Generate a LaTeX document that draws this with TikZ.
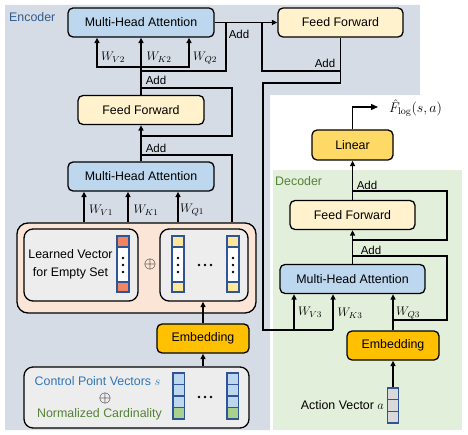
\RequirePackage{fix-cm}
\documentclass[tikz,border=0pt]{standalone}
\usepackage{amsmath}
\usepackage{amssymb}
\usepackage[no-math]{fontspec}
\setmainfont{Liberation Sans}
\usepackage{xcolor}
\usepackage{tikz}
\usetikzlibrary{positioning,calc,arrows.meta}
\definecolor{EncGray}{HTML}{D6DCE5}
\definecolor{DecGreen}{HTML}{E2EFDA}
\definecolor{AttnBlue}{HTML}{BDD7EE}
\definecolor{FFYellow}{HTML}{FFF2CC}
\definecolor{EmbGold}{HTML}{FFC000}
\definecolor{LinGold}{HTML}{FFD966}
\definecolor{SetPink}{HTML}{FBE5D6}
\definecolor{BoxGray}{HTML}{EDEDED}
\definecolor{VecBlue}{HTML}{2F5597}
\definecolor{CellOrange}{HTML}{F4845F}
\definecolor{CellYellow}{HTML}{FFE699}
\definecolor{CellBlue}{HTML}{BDD7EE}
\definecolor{CellGreen}{HTML}{A9D18E}
\definecolor{CellGray}{HTML}{D9D9D9}
\definecolor{EncText}{HTML}{2F5C8F}
\definecolor{CtrlText}{HTML}{2E75B6}
\definecolor{NormText}{HTML}{548235}
\tikzset{
    blockbox/.style={rectangle, rounded corners=5pt, draw=black, line width=1.3pt, inner sep=0pt, font=\fontsize{12.4}{14}\selectfont},
    attnbox/.style={blockbox, fill=AttnBlue, minimum width=146pt, minimum height=29pt},
    ffbox/.style={blockbox, fill=FFYellow, minimum width=126pt, minimum height=29pt},
    embbox/.style={blockbox, fill=EmbGold, minimum width=92pt, minimum height=29pt},
    groupbox/.style={rectangle, rounded corners=9pt, draw=black, line width=1.3pt, inner sep=0pt},
    wire/.style={draw=black, line width=1.3pt},
    arrowwire/.style={wire, -{Triangle[length=5.5pt, width=5pt]}},
    vecbox/.style={draw=VecBlue, line width=1.3pt},
    wlabel/.style={inner sep=0pt, font=\fontsize{12.4}{14}\selectfont},
    addlabel/.style={inner sep=0pt, font=\fontsize{11.5}{13}\selectfont},
    plaintext/.style={inner sep=0pt, font=\fontsize{12.4}{14}\selectfont},
    mathsign/.style={inner sep=0pt, font=\fontsize{16}{16}\selectfont}
}

\begin{document}
\begin{tikzpicture}[x=1pt, y=-1pt]
    \useasboundingbox (0,0) rectangle (468,435);

    % --- NỀN ---
    \fill[EncGray] (5,5) -- (420,5) -- (420,95) -- (270,95) -- (270,430) -- (5,430) -- cycle;
    \fill[DecGreen] (273,170) rectangle (462,430);
    \node[plaintext, text=EncText, anchor=west] (encTitle) at (9,17) {Encoder};
    \node[plaintext, text=NormText, anchor=west] (decTitle) at (275,181) {Decoder};

    % --- ENCODER ---
    \node[attnbox] (encAttnB) at (141,22.5) {Multi-Head Attention};
    \node[ffbox, minimum width=125pt] (encFFB) at (340.5,22.5) {Feed Forward};
    \node[ffbox] (encFFA) at (141,110) {Feed Forward};
    \node[attnbox] (encAttnA) at (141,176.5) {Multi-Head Attention};
    % Khối tập hợp (nền hồng)
    \node[groupbox, fill=SetPink, minimum width=239pt, minimum height=90pt, rounded corners=11pt] (setBox) at (136.5,268) {};
    \node[groupbox, fill=BoxGray, minimum width=114pt, minimum height=72pt] (emptyBox) at (81,265) {};
    \node[groupbox, fill=BoxGray, minimum width=88pt, minimum height=72pt] (tokBox) at (204,265) {};
    \node[plaintext, align=center, font=\fontsize{12.4}{18}\selectfont] (emptyText) at (70.5,264) {Learned Vector\\for Empty Set};
    \node[mathsign] (setPlus) at (150,265) {$\oplus$};
    \foreach \dx in {-6,0,6}
        \fill (205+\dx,265) circle (1.3pt);
    % Các vector trong khối tập hợp
    \foreach \vx/\vc in {117/CellOrange, 172/CellYellow, 227/CellYellow} {
        \draw[vecbox, fill=\vc] (\vx,236) rectangle ++(12,11);
        \draw[vecbox, fill=white] (\vx,247) rectangle ++(12,35);
        \draw[vecbox, fill=\vc] (\vx,282) rectangle ++(12,10);
        \foreach \dy in {-7,0,7}
            \fill (\vx+6,265+\dy) circle (1.3pt);
    }
    \node[embbox] (encEmb) at (203,338.5) {Embedding};
    % Khối đầu vào
    \node[groupbox, fill=BoxGray, minimum width=225pt, minimum height=61pt] (inBox) at (136.5,397.5) {};
    \node[plaintext, text=CtrlText] (ctrlText) at (97.5,381) {Control Point Vectors $s$};
    \node[mathsign] (inPlus) at (105,398) {$\oplus$};
    \node[plaintext, text=NormText] (normText) at (99.5,414) {Normalized Cardinality};
    \foreach \dx in {-6,0,6}
        \fill (205+\dx,397) circle (1.3pt);
    \foreach \vx in {173,227} {
        \foreach \i/\vc in {0/CellBlue, 1/CellBlue, 2/CellBlue, 3/CellGreen}
            \draw[vecbox, fill=\vc] (\vx,373+11.5*\i) rectangle ++(11.5,11.5);
    }

    % --- DECODER ---
    \node[blockbox, fill=LinGold, minimum width=81pt, minimum height=30pt] (decLinear) at (352.5,145) {Linear};
    \node[ffbox, minimum width=125pt] (decFF) at (352.5,215) {Feed Forward};
    \node[attnbox, minimum width=145pt] (decAttn) at (352.5,279) {Multi-Head Attention};
    \node[embbox] (decEmb) at (393,345.5) {Embedding};
    \foreach \i in {0,1,2}
        \draw[vecbox, fill=CellGray] (387.5,388+11.7*\i) rectangle ++(11,11.7);
    \node[draw=VecBlue, line width=1.3pt, minimum width=11pt, minimum height=35pt, inner sep=0pt] (actVec) at (393,405.5) {};
    \node[plaintext, anchor=east] (actText) at (384,405) {Action Vector $a$};
    \coordinate (outEnd) at (378,107);
    \node[anchor=west, inner sep=0pt, font=\fontsize{14}{16}\selectfont] (fOut) at (389,108) {$\hat{F}_{\log}(s,a)$};

    % --- ĐƯỜNG NỐI ENCODER ---
    \draw[arrowwire] (inBox.north -| encEmb) -- (encEmb.south);
    \draw[arrowwire] (encEmb.north) -- (tokBox.south -| encEmb);
    \foreach \x in {84,128,178}
        \draw[arrowwire] (setBox.north -| \x,0) -- (encAttnA.south -| \x,0);
    \draw[wire] (setBox.north -| 232,0) |- (encAttnA.north |- 0,155);
    \draw[arrowwire] (encAttnA.north) -- (encFFA.south);
    \draw[wire] (encFFA.south |- 0,136) -| (232,88) -- (encFFA.north |- 0,88);
    \draw[arrowwire] (encFFA.north) -- (encAttnB.south);
    \foreach \x in {97,189}
        \draw[arrowwire] (encFFA.north |- 0,67) -| (encAttnB.south -| \x,0);
    \draw[wire] (encFFA.north |- 0,71) -| (encAttnB.east -| 226,0);
    \draw[arrowwire] (encAttnB.east) -- (encFFB.west);
    \draw[wire] (encAttnB.east -| 262,0) |- (encFFB.south |- 0,71);
    % Encoder -> Decoder
    \draw[wire] (encFFB.south) |- (263,83) -- (263,330) -- (333,330);
    \foreach \x in {294,333}
        \draw[arrowwire] (\x,330) -- (decAttn.south -| \x,0);

    % --- ĐƯỜNG NỐI DECODER ---
    \draw[arrowwire] (actVec.north) -- (decEmb.south);
    \draw[arrowwire] (decEmb.north) -- (decAttn.south -| decEmb);
    \draw[wire] (decEmb.north |- 0,320) -| (447,256) -- (decAttn.north |- 0,256);
    \draw[arrowwire] (decAttn.north) -- (decFF.south);
    \draw[wire] (decAttn.north |- 0,240) -| (447,191) -- (decFF.north |- 0,191);
    \draw[arrowwire] (decFF.north) -- (decLinear.south);
    \draw[wire, -{Triangle[length=7pt, width=6pt]}] (decLinear.north) |- (outEnd);

    % --- NHÃN ---
    \node[wlabel] (wV2) at (113,57) {$W_{V2}$};
    \node[wlabel] (wK2) at (159,57) {$W_{K2}$};
    \node[wlabel] (wQ2) at (205,58) {$W_{Q2}$};
    \node[wlabel] (wV1) at (101,210) {$W_{V1}$};
    \node[wlabel] (wK1) at (146,210) {$W_{K1}$};
    \node[wlabel] (wQ1) at (192,210) {$W_{Q1}$};
    \node[wlabel] (wV3) at (310,312) {$W_{V3}$};
    \node[wlabel] (wK3) at (350,313) {$W_{K3}$};
    \node[wlabel] (wQ3) at (408,313) {$W_{Q3}$};
    \node[addlabel] (addA) at (156,148) {Add};
    \node[addlabel] (addB) at (156,80) {Add};
    \node[addlabel] (addC) at (239,34) {Add};
    \node[addlabel] (addD) at (325,63) {Add};
    \node[addlabel] (addE) at (367,185) {Add};
    \node[addlabel] (addF) at (371,250) {Add};

\end{tikzpicture}
\end{document}
